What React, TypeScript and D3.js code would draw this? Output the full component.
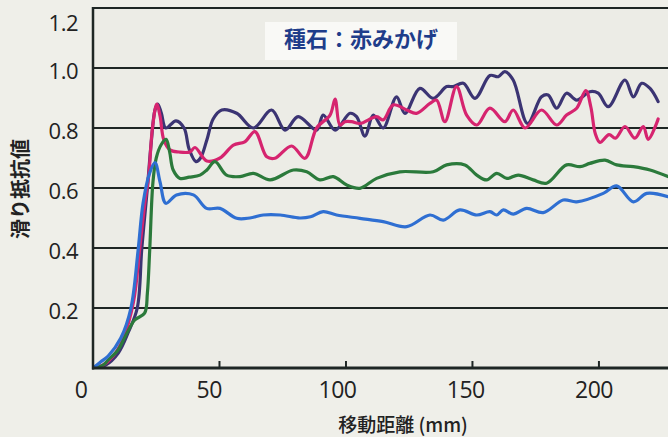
import React from "react";
import * as d3 from "d3";

const W = 668;
const H = 437;

const yTicks = [0.2, 0.4, 0.6, 0.8, 1.0, 1.2];
const yTickLabels = ["0.2", "0.4", "0.6", "0.8", "1.0", "1.2"];
const xTicks = [0, 50, 100, 150, 200];
const xTickLabels = ["0", "50", "100", "150", "200"];

const navyX = [0, 5, 10, 14, 17.5, 19.3, 21.5, 23, 24.5, 25.6, 27, 28.8, 32.8, 36, 38, 40.7, 42.5, 45, 47.5, 50.9, 56.8, 63.4, 70.6, 75.9, 81.1, 88.4, 91, 95.7, 101.6, 104.2, 107.5, 110.8, 114.7, 120, 123.3, 129.2, 134.5, 139.8, 142.4, 146.4, 151, 156.9, 160.2, 162.8, 166.1, 171.8, 177.3, 179.9, 183.3, 187.2, 191.2, 196.4, 199.7, 203.7, 210.3, 213.6, 216.9, 220.2, 223.4];
const navyY = [0, 0.01, 0.05, 0.12, 0.2, 0.4, 0.6, 0.75, 0.86, 0.88, 0.85, 0.8, 0.824, 0.8, 0.73, 0.688, 0.7, 0.76, 0.83, 0.86, 0.849, 0.8, 0.86, 0.793, 0.838, 0.793, 0.843, 0.793, 0.849, 0.838, 0.773, 0.843, 0.8, 0.904, 0.849, 0.932, 0.899, 0.938, 0.938, 0.949, 0.899, 0.975, 0.971, 0.988, 0.96, 0.815, 0.904, 0.91, 0.866, 0.916, 0.893, 0.921, 0.916, 0.871, 0.96, 0.904, 0.949, 0.932, 0.888];

const magentaX = [0, 4, 8, 12, 16, 18.5, 20.5, 22, 23.5, 25.2, 26.5, 28, 30.4, 34, 38.3, 40.3, 45, 50.2, 55.5, 60, 64, 68.7, 71.9, 78.5, 83.8, 88.4, 93.7, 95.7, 97.6, 99.6, 102.2, 105.5, 112.1, 114.7, 118.7, 124, 127.9, 133.2, 135.8, 139.1, 143.7, 147.7, 151.7, 156.9, 162.8, 166.1, 170.8, 177.3, 183.3, 187.2, 191.2, 194.8, 196.8, 198.6, 200.4, 204, 206.5, 210.3, 214.2, 217.5, 219.5, 223.4];
const magentaY = [0, 0.01, 0.04, 0.1, 0.22, 0.4, 0.55, 0.64, 0.8, 0.88, 0.84, 0.76, 0.727, 0.72, 0.72, 0.735, 0.69, 0.7, 0.743, 0.754, 0.788, 0.704, 0.699, 0.74, 0.699, 0.8, 0.843, 0.896, 0.81, 0.821, 0.821, 0.815, 0.838, 0.827, 0.877, 0.86, 0.849, 0.882, 0.893, 0.821, 0.938, 0.843, 0.81, 0.866, 0.821, 0.86, 0.8, 0.86, 0.81, 0.843, 0.866, 0.925, 0.87, 0.78, 0.752, 0.778, 0.766, 0.805, 0.766, 0.805, 0.762, 0.83];

const greenX = [0, 4, 6, 9.9, 13, 16.5, 20.4, 21.5, 22.4, 23.7, 25, 27, 28.9, 30.3, 31.7, 34.4, 38, 42.3, 45, 48.2, 52.8, 58.1, 63.4, 70, 79.2, 84.5, 89.7, 95, 100.3, 105.5, 112.1, 121.3, 134.5, 139.8, 147, 151.7, 155.6, 159.6, 163.6, 168.1, 174, 179.3, 187.2, 192.5, 196.4, 202.4, 207, 213.6, 220.2, 227.3];
const greenY = [0, 0.01, 0.027, 0.06, 0.11, 0.16, 0.183, 0.25, 0.39, 0.62, 0.7, 0.745, 0.762, 0.72, 0.66, 0.632, 0.636, 0.643, 0.66, 0.688, 0.643, 0.638, 0.649, 0.627, 0.66, 0.654, 0.627, 0.638, 0.61, 0.599, 0.632, 0.654, 0.654, 0.677, 0.677, 0.643, 0.627, 0.649, 0.632, 0.643, 0.627, 0.616, 0.677, 0.671, 0.682, 0.693, 0.677, 0.671, 0.66, 0.638];

const blueX = [0, 3, 6, 11, 15, 17.8, 19.8, 22.4, 24.5, 26.5, 28.8, 33, 39.7, 44.9, 50.2, 56.8, 62, 67.3, 74, 81.8, 86, 91, 96.3, 105.5, 114.7, 124, 133.2, 138.5, 145, 151.7, 156.9, 159.6, 162.2, 166.1, 171.4, 178, 185.9, 191.2, 201.7, 207, 213.6, 218.9, 227.3];
const blueY = [0, 0.02, 0.04, 0.1, 0.2, 0.39, 0.55, 0.65, 0.685, 0.62, 0.549, 0.577, 0.577, 0.532, 0.532, 0.499, 0.5, 0.51, 0.51, 0.5, 0.504, 0.521, 0.51, 0.499, 0.488, 0.471, 0.51, 0.493, 0.527, 0.51, 0.521, 0.51, 0.527, 0.513, 0.532, 0.518, 0.56, 0.554, 0.582, 0.607, 0.554, 0.582, 0.571];

const series = [
  { name: "navy", xs: navyX, ys: navyY, color: "#3b3473" },
  { name: "magenta", xs: magentaX, ys: magentaY, color: "#d6246f" },
  { name: "green", xs: greenX, ys: greenY, color: "#2b7a3b" },
  { name: "blue", xs: blueX, ys: blueY, color: "#2f6fd2" },
];

export default function App() {
  const left = 93;
  const right = 668;
  const top = 8;
  const bottom = 368;
  const x = d3.scaleLinear().domain([0, 227.3]).range([left, right]);
  const y = d3.scaleLinear().domain([0, 1.2]).range([bottom, top]);
  // label positions are slightly offset from the ticks in the reference
  const xLabel = d3.scaleLinear().domain([0, 200]).range([81, 594]);

  const line = d3
    .line<[number, number]>()
    .x((d) => x(d[0]))
    .y((d) => y(d[1]))
    .curve(d3.curveCatmullRom.alpha(0.5));

  const font = "'Open Sans', 'Noto Sans', sans-serif";
  const cjk = "'Noto Sans CJK JP', 'Noto Sans', sans-serif";

  return (
    <svg
      width={W}
      height={H}
      style={{ position: "absolute", left: 0, top: 0, background: "#eeeee8" }}
    >
      <defs>
        <clipPath id="plotclip">
          <rect x={left} y={top} width={right - left} height={bottom - top} />
        </clipPath>
      </defs>
      <rect x={0} y={0} width={W} height={H} fill="#efefe9" />
      <rect x={left} y={top} width={right - left} height={bottom - top} fill="#ececE6" />
      {/* title box */}
      <rect x={265} y={22} width={192} height={38} fill="#f9f9f6" />
      <text
        x={361}
        y={47}
        textAnchor="middle"
        fontFamily={cjk}
        fontWeight={700}
        fontSize={22}
        fill="#1f3d8a"
      >
        種石：赤みかげ
      </text>
      {/* grid lines */}
      {yTicks.map((t) => (
        <line
          key={t}
          x1={left}
          x2={right}
          y1={y(t)}
          y2={y(t)}
          stroke="#1e2624"
          strokeWidth={2}
        />
      ))}
      {/* x ticks */}
      {xTicks.slice(1).map((t) => (
        <line key={t} x1={x(t)} x2={x(t)} y1={bottom} y2={bottom - 7} stroke="#1e2624" strokeWidth={2} />
      ))}
      {/* series */}
      <g clipPath="url(#plotclip)">
        {series.map((s) => {
          const pts: [number, number][] = s.xs.map((v, i) => [v, s.ys[i]]);
          return (
            <path
              key={s.name}
              d={line(pts) || ""}
              fill="none"
              stroke={s.color}
              strokeWidth={3.2}
              strokeLinejoin="round"
              strokeLinecap="round"
            />
          );
        })}
      </g>
      {/* axes lines */}
      <line x1={left} x2={left} y1={top - 1} y2={bottom + 1.5} stroke="#1e2624" strokeWidth={2.5} />
      <line x1={left - 1} x2={right} y1={bottom} y2={bottom} stroke="#1e2624" strokeWidth={3} />
      {/* y tick labels */}
      {yTicks.map((t, i) => (
        <text
          key={t}
          x={78}
          y={t === 1.2 ? 22 : y(t) + 2}
          textAnchor="end"
          dominantBaseline="central"
          fontFamily={font}
          fontSize={22}
          letterSpacing={-0.5}
          fill="#222"
        >
          {yTickLabels[i]}
        </text>
      ))}
      {/* x tick labels */}
      {xTicks.map((t, i) => (
        <text
          key={t}
          x={xLabel(t)}
          y={389}
          textAnchor="middle"
          dominantBaseline="central"
          fontFamily={font}
          fontSize={23}
          letterSpacing={-0.5}
          fill="#222"
        >
          {xTickLabels[i]}
        </text>
      ))}
      {/* axis titles */}
      <text
        x={403}
        y={423}
        textAnchor="middle"
        dominantBaseline="central"
        fontFamily={cjk}
        fontSize={19}
        fontWeight={500}
        fill="#222"
      >
        移動距離 (mm)
      </text>
      <text
        transform="translate(19,189) rotate(-90)"
        textAnchor="middle"
        dominantBaseline="central"
        fontFamily={cjk}
        fontSize={20}
        fontWeight={700}
        fill="#222"
      >
        滑り抵抗値
      </text>
    </svg>
  );
}
